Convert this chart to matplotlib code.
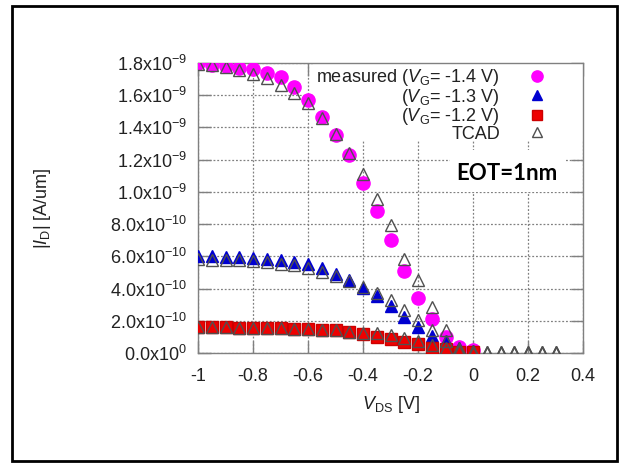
#!/usr/bin/env python3
import numpy as np
import matplotlib
matplotlib.use("Agg")
import matplotlib.pyplot as plt
from matplotlib.patches import Rectangle

plt.rcParams['font.family'] = ['Liberation Sans', 'DejaVu Sans']
plt.rcParams['mathtext.fontset'] = 'custom'
plt.rcParams['mathtext.rm'] = 'Liberation Sans'
plt.rcParams['mathtext.it'] = 'Liberation Sans:italic'
plt.rcParams['mathtext.bf'] = 'Liberation Sans:bold'
plt.rcParams['axes.unicode_minus'] = False

# V_DS sweep points [V]
vds_meas = [-1.0, -0.95, -0.9, -0.85, -0.8, -0.75, -0.7, -0.65, -0.6, -0.55, -0.5,
            -0.45, -0.4, -0.35, -0.3, -0.25, -0.2, -0.15, -0.1, -0.05, 0.0]
vds_tcad = vds_meas + [0.05, 0.1, 0.15, 0.2, 0.25, 0.3]

# measured |I_D| in units of 1e-10 A/um
meas_14 = [18.0, 17.85, 17.8, 17.7, 17.6, 17.4, 17.1, 16.5, 15.7, 14.65, 13.5,
           12.3, 10.55, 8.8, 7.0, 5.1, 3.4, 2.1, 1.0, 0.38, 0.2]
meas_13 = [6.05, 6.0, 5.95, 5.95, 5.9, 5.85, 5.75, 5.65, 5.5, 5.25, 4.9,
           4.55, 4.05, 3.55, 2.92, 2.25, 1.62, 1.03, 0.75, 0.33, 0.15]
meas_12 = [1.6, 1.6, 1.6, 1.55, 1.55, 1.55, 1.55, 1.5, 1.5, 1.45, 1.4,
           1.3, 1.18, 1.02, 0.88, 0.68, 0.55, 0.33, 0.22, 0.06, 0.06]

# TCAD |I_D| in units of 1e-10 A/um
tcad_14 = [17.95, 17.85, 17.75, 17.55, 17.3, 17.05, 16.65, 16.15, 15.5, 14.6, 13.6,
           12.4, 11.1, 9.55, 7.97, 5.85, 4.52, 2.87, 1.4, 0.3, 0.1,
           0.05, 0.05, 0.05, 0.05, 0.05, 0.05]
tcad_13 = [5.82, 5.8, 5.8, 5.75, 5.7, 5.65, 5.55, 5.45, 5.3, 5.05, 4.8,
           4.5, 4.1, 3.75, 3.3, 2.7, 2.02, 1.4, 0.75, 0.25, 0.08,
           0.04, 0.04, 0.04, 0.04, 0.04, 0.04]
tcad_12 = [1.6, 1.6, 1.6, 1.57, 1.55, 1.55, 1.53, 1.5, 1.5, 1.45, 1.4,
           1.32, 1.25, 1.22, 1.1, 0.95, 0.72, 0.5, 0.3, 0.1, 0.03,
           0.03, 0.03, 0.03, 0.03, 0.03, 0.03]

x_ticks = [-1, -0.8, -0.6, -0.4, -0.2, 0, 0.2, 0.4]
x_ticklabels = ["-1", "-0.8", "-0.6", "-0.4", "-0.2", "0", "0.2", "0.4"]
y_ticks = [0, 2e-10, 4e-10, 6e-10, 8e-10, 1e-9, 1.2e-9, 1.4e-9, 1.6e-9, 1.8e-9]
y_ticklabels = [r"0.0x10$^{0}$", r"2.0x10$^{-10}$", r"4.0x10$^{-10}$", r"6.0x10$^{-10}$",
                r"8.0x10$^{-10}$", r"1.0x10$^{-9}$", r"1.2x10$^{-9}$", r"1.4x10$^{-9}$",
                r"1.6x10$^{-9}$", r"1.8x10$^{-9}$"]

scale = 1e-10

fig = plt.figure(figsize=(6.21, 4.63), dpi=100)
ax = fig.add_axes([198 / 621, 110 / 463, 385 / 621, 290 / 463])

h14, = ax.plot(vds_meas, np.array(meas_14) * scale, 'o', color='#ff00ff', ms=9.5,
               mec='#ff00ff', zorder=3)
h13, = ax.plot(vds_meas, np.array(meas_13) * scale, '^', color='#0000d0', ms=8.5,
               mec='#0000d0', zorder=3)
h12, = ax.plot(vds_meas, np.array(meas_12) * scale, 's', color='#ee0000', ms=8.5,
               mec='#cc0000', zorder=3)
ht, = ax.plot(vds_tcad, np.array(tcad_14) * scale, '^', mfc='none', mec='#505050',
              ms=8.5, mew=1.0, zorder=4)
ax.plot(vds_tcad, np.array(tcad_13) * scale, '^', mfc='none', mec='#505050',
        ms=8.5, mew=1.0, zorder=4)
ax.plot(vds_tcad, np.array(tcad_12) * scale, '^', mfc='none', mec='#505050',
        ms=8.5, mew=1.0, zorder=4)

ax.set_xlim(-1, 0.4)
ax.set_ylim(0, 1.8e-9)
ax.set_xticks(x_ticks)
ax.set_xticklabels(x_ticklabels)
ax.set_yticks(y_ticks)
ax.set_yticklabels(y_ticklabels)
ax.tick_params(direction='in', length=9, width=1, color='#808080', labelsize=13,
               labelcolor='#222222', top=True, right=True)
ax.tick_params(axis='x', pad=11)
ax.tick_params(axis='y', pad=8)
for s in ax.spines.values():
    s.set_color('#808080')
    s.set_linewidth(1.0)
ax.grid(True, color='#808080', linestyle=(0, (1.5, 1.5)), linewidth=0.9)
ax.set_axisbelow(True)

ax.set_xlabel(r"$\mathit{V}_{\mathrm{DS}}$ [V]", fontsize=13, color='#222222', labelpad=6)
ax.set_ylabel(r"|$\mathit{I}_{\mathrm{D}}$| [A/um]", fontsize=13, color='#222222', labelpad=41)

# white boxes behind key and annotation (hide grid there)
ax.add_patch(Rectangle((0.299, 0.731), 0.7, 0.268, transform=ax.transAxes,
                       facecolor='white', edgecolor='none', zorder=2))
ax.add_patch(Rectangle((0.6545, 0.555), 0.2985, 0.145, transform=ax.transAxes,
                       facecolor='white', edgecolor='none', zorder=2))

leg = ax.legend([h14, h13, h12, ht],
                [r"measured ($\mathit{V}_{\mathrm{G}}$= -1.4 V)",
                 r"($\mathit{V}_{\mathrm{G}}$= -1.3 V)",
                 r"($\mathit{V}_{\mathrm{G}}$= -1.2 V)",
                 "TCAD"],
                loc='upper right', bbox_to_anchor=(0.93, 1.005), markerfirst=False,
                frameon=False, fontsize=13, borderpad=0.3, borderaxespad=0,
                handlelength=1.5, handletextpad=1.3, labelspacing=-0.08,
                markerscale=0.85)
for t in leg.get_texts():
    t.set_color('#222222')
    t.set_ha('right')

ax.text(0.8026, 0.62, "EOT=1nm", transform=ax.transAxes, fontsize=16,
        fontweight='bold', family=['Lato', 'DejaVu Sans'], ha='center', va='center',
        zorder=5)

fig.patches.append(Rectangle((12 / 621, 2 / 463), 605 / 621, 455 / 463,
                             transform=fig.transFigure, fill=False,
                             edgecolor='black', linewidth=2))

fig.savefig('out.png', dpi=100)
